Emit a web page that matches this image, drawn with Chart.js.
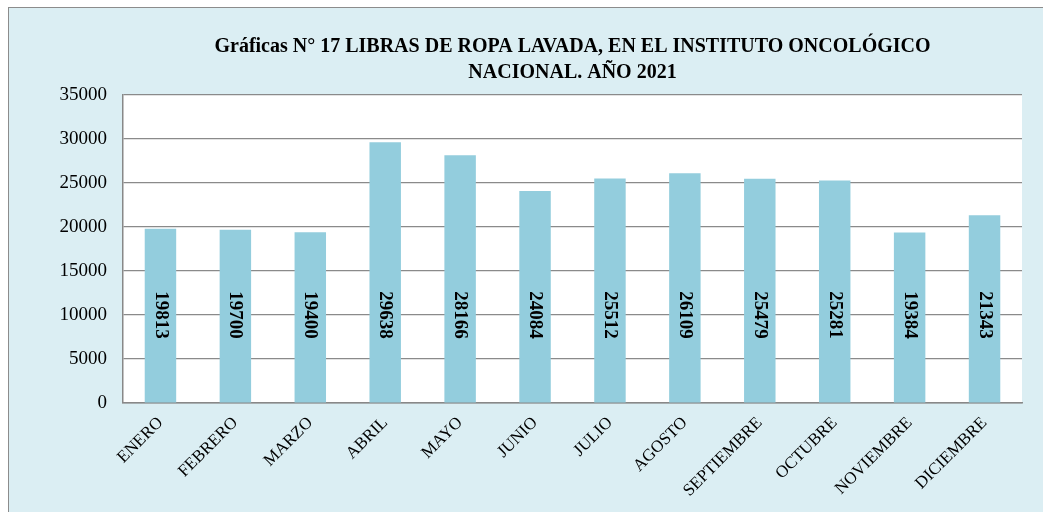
<!DOCTYPE html>
<html>
<head>
<meta charset="utf-8">
<script src="https://cdn.jsdelivr.net/npm/chart.js@4/dist/chart.umd.min.js"></script>
<style>
  html, body { margin: 0; padding: 0; background: #fff; }
  #box {
    position: absolute; left: 8px; top: 7px;
    width: 1040px; height: 520px;
    border: 1px solid #8c8c8c;
    background: #dbeef3;
    overflow: hidden;
  }
  #wrap { position: absolute; left: 0; top: 0; width: 1034px; height: 504px; }
</style>
</head>
<body>
<div id="box">
  <div id="wrap"><canvas id="canvas"></canvas></div>
</div>
<script>
const meses = ['ENERO', 'FEBRERO', 'MARZO', 'ABRIL', 'MAYO', 'JUNIO', 'JULIO',
  'AGOSTO', 'SEPTIEMBRE', 'OCTUBRE', 'NOVIEMBRE', 'DICIEMBRE']
const libras = [19813, 19700, 19400, 29638, 28166, 24084, 25512, 26109, 25479, 25281, 19384, 21343]
const titulo = ['Gráficas N° 17 LIBRAS DE ROPA LAVADA, EN EL INSTITUTO ONCOLÓGICO', 'NACIONAL. AÑO 2021']
const ejeMax = 35000
const ejePaso = 5000
const alturaEtiqueta = 10000

const serif = '"Liberation Serif", "Times New Roman", serif'

// plot area white background
const fondoBlanco = {
    id: 'fondoBlanco',
    beforeDraw(chart) {
        const {ctx, chartArea: a} = chart
        ctx.save()
        ctx.fillStyle = '#ffffff'
        ctx.fillRect(a.left, a.top, a.right - a.left, a.bottom - a.top)
        ctx.restore()
    }
}

// vertical value labels inside the bars
const etiquetas = {
    id: 'etiquetas',
    afterDatasetsDraw(chart) {
        const {ctx} = chart
        const y = chart.scales.y.getPixelForValue(alturaEtiqueta)
        chart.getDatasetMeta(0).data.forEach((bar, i) => {
            ctx.save()
            ctx.translate(bar.x, y)
            ctx.rotate(Math.PI / 2)
            ctx.font = 'bold 19px ' + serif
            ctx.fillStyle = '#000'
            ctx.textAlign = 'center'
            ctx.textBaseline = 'middle'
            ctx.fillText(String(libras[i]), 0, 0)
            ctx.restore()
        })
    }
}

const ctx = document.getElementById('canvas')
new Chart(ctx, {
    type: 'bar',
    data: {
        labels: meses,
        datasets: [{
            label: 'Libras',
            data: libras,
            backgroundColor: '#93cddd',
            barPercentage: 0.42,
            categoryPercentage: 1
        }]
    },
    options: {
        responsive: true,
        maintainAspectRatio: false,
        animation: false,
        layout: { padding: { left: 0, right: 21, top: 0, bottom: 0 } },
        plugins: {
            legend: { display: false },
            tooltip: { enabled: false },
            title: {
                display: true,
                fullSize: false,
                text: titulo,
                color: '#000',
                font: { family: serif, size: 20, weight: 'bold', lineHeight: 1.3 },
                padding: { top: 26, bottom: 9 }
            }
        },
        scales: {
            x: {
                grid: { display: false, drawTicks: false },
                border: { color: '#888888', width: 1.5 },
                ticks: {
                    color: '#000',
                    font: { family: serif, size: 17 },
                    minRotation: 45,
                    maxRotation: 45,
                    autoSkip: false,
                    padding: 10
                },
                afterFit(scale) { scale.height = 109 }
            },
            y: {
                min: 0,
                max: ejeMax,
                grid: { color: '#8a8a8a', lineWidth: 1.2, drawTicks: false },
                border: { color: '#888888', width: 1.5 },
                ticks: {
                    stepSize: ejePaso,
                    color: '#000',
                    font: { family: serif, size: 19 },
                    padding: 16,
                    callback: v => String(v)
                },
                afterFit(scale) { scale.width = 114 }
            }
        }
    },
    plugins: [fondoBlanco, etiquetas]
})
</script>
</body>
</html>
